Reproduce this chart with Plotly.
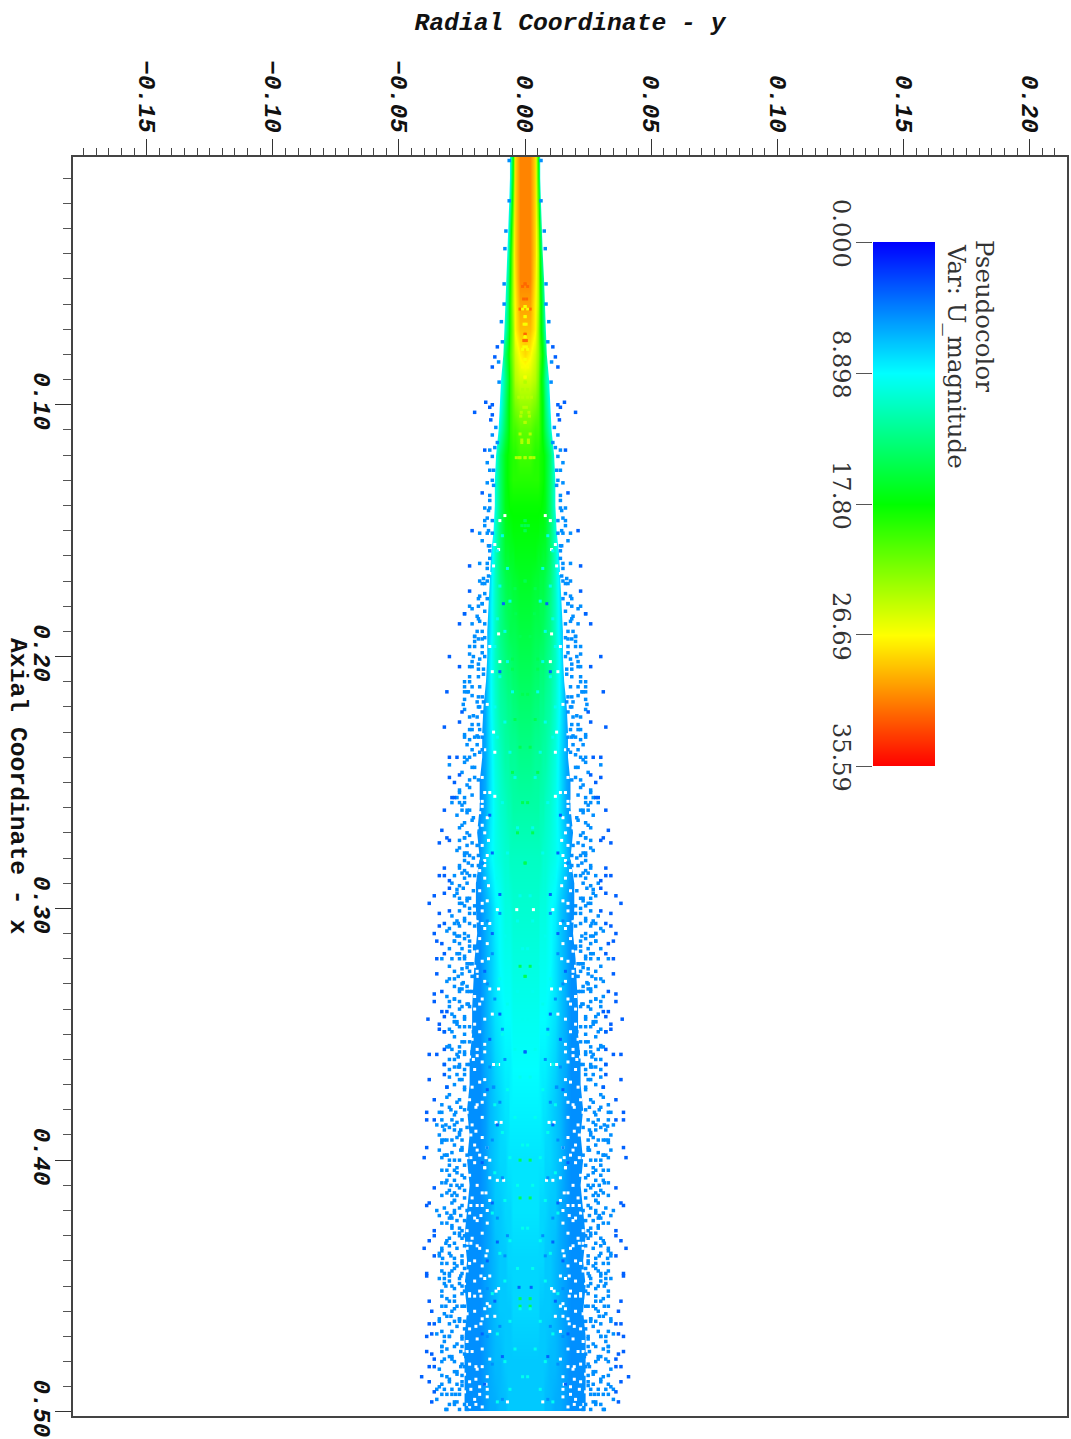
import plotly.graph_objects as go

E = 5
# Speed magnitude, one half of the mirrored jet.
# Radial positions and axial stations are in thousandths.
radial_milli = [0, 2, 4, 5, 6, 7, 8, 10, 12, 14, 16, 18, 20, 22, 24, 26, 28]
axial_milli = [0, 10, 20, 30, 40, 50, 60, 70, 80, 90, 100, 110, 120, 130, 140, 150, 160, 170, 180, 190, 200,
               220, 240, 260, 280, 300, 320, 340, 360, 380, 400, 420, 440, 460, 480, 500]
speed_rows = [
    [31, 31, 28, 18, 9, 6, E, E, E, E, E, E, E, E, E, E, E],
    [31, 31, 28, 19, 10, 6, E, E, E, E, E, E, E, E, E, E, E],
    [31, 31, 28, 21, 12, 7, E, E, E, E, E, E, E, E, E, E, E],
    [31, 31, 28, 23, 15, 9, 6, E, E, E, E, E, E, E, E, E, E],
    [31, 31, 28, 24, 17, 11, 7, E, E, E, E, E, E, E, E, E, E],
    [31, 31, 27.5, 24, 18, 13, 9, 5, E, E, E, E, E, E, E, E, E],
    [30, 30, 27, 24, 19, 14, 10, 5, E, E, E, E, E, E, E, E, E],
    [29, 29, 27, 23, 19, 15, 11, 6, E, E, E, E, E, E, E, E, E],
    [28, 27, 25, 23, 20, 17, 14, 8, E, E, E, E, E, E, E, E, E],
    [25, 25, 24, 22, 19, 16, 13, 8, 5, E, E, E, E, E, E, E, E],
    [23, 23, 22, 21, 19, 17, 14, 9, 6, E, E, E, E, E, E, E, E],
    [21, 21, 20, 20, 19, 17, 15, 11, 7, E, E, E, E, E, E, E, E],
    [20, 20, 19, 19, 18.5, 18, 17, 14, 9, 5, E, E, E, E, E, E, E],
    [19, 19, 19, 19, 18.5, 18, 17, 14, 10, 6, E, E, E, E, E, E, E],
    [18, 18, 18, 18, 18, 17.5, 17, 14, 10, 6, E, E, E, E, E, E, E],
    [17.5, 17.5, 17.5, 17.5, 17, 17, 16.5, 14, 10.5, 6, E, E, E, E, E, E, E],
    [17, 17, 17, 16.5, 16.5, 16, 16, 14, 11, 7, E, E, E, E, E, E, E],
    [16.5, 16.5, 16, 16, 15.5, 15.5, 15, 13.5, 11, 7.5, E, E, E, E, E, E, E],
    [16, 16, 15.5, 15.5, 15, 15, 14.5, 13, 11, 8, E, E, E, E, E, E, E],
    [15.5, 15.5, 15, 15, 15, 14.5, 14, 13, 11, 8, 5.5, E, E, E, E, E, E],
    [15, 15, 14.5, 14.5, 14, 14, 13.5, 12.5, 11, 8.5, 5.5, E, E, E, E, E, E],
    [14, 14, 13.5, 13.5, 13, 13, 12.5, 12, 10.5, 8.5, 6, E, E, E, E, E, E],
    [13, 13, 12.5, 12.5, 12.5, 12, 12, 11, 10, 8, 6, E, E, E, E, E, E],
    [12, 12, 12, 12, 11.5, 11.5, 11, 10.5, 9.5, 8, 6, E, E, E, E, E, E],
    [11, 11, 11, 11, 11, 10.5, 10.5, 10, 9.5, 8.5, 7, 5.5, E, E, E, E, E],
    [10.5, 10.5, 10.5, 10.5, 10, 10, 10, 9, 8.5, 7, 6, E, E, E, E, E, E],
    [10, 10, 10, 10, 9.5, 9.5, 9.5, 9, 8, 7, 6, E, E, E, E, E, E],
    [9.5, 9.5, 9.5, 9.5, 9, 9, 9, 8.5, 8, 7, 6, E, E, E, E, E, E],
    [9, 9, 9, 9, 8.5, 8.5, 8.5, 8, 7.5, 6.5, 6, E, E, E, E, E, E],
    [8.5, 8.5, 8.5, 8.5, 8.5, 8, 8, 7.5, 7, 6.5, 5.5, E, E, E, E, E, E],
    [8, 8, 8, 8, 8, 8, 7.5, 7.5, 7, 6.5, 5.5, E, E, E, E, E, E],
    [8, 8, 8, 8, 7.5, 7.5, 7.5, 7, 7, 6, 5.5, E, E, E, E, E, E],
    [7.5, 7.5, 7.5, 7.5, 7.5, 7.5, 7, 7, 6.5, 6, 5.5, E, E, E, E, E, E],
    [7.5, 7.5, 7.5, 7.5, 7, 7, 7, 7, 6.5, 6, 5.5, E, E, E, E, E, E],
    [7, 7, 7, 7, 7, 7, 7, 6.5, 6.5, 6, 5.5, E, E, E, E, E, E],
    [7, 7, 7, 7, 7, 7, 6.5, 6.5, 6, 6, 5.5, E, E, E, E, E, E],
]

# Half-width of the continuous part of the jet at each axial station (thousandths).
core_axial = list(range(0, 501, 10))
core_halfwidth = [6, 6, 6.3, 6.6, 7, 7.5, 7.8, 8.2, 8.6, 9.5, 10, 10.5, 11.5, 12, 12, 12.5, 13.5, 14, 14.5, 15, 15,
                  15.5, 16.5, 17, 17, 18, 18, 19, 18, 19.5, 19.5, 19, 20, 20.5, 21, 21, 22, 22, 23, 22, 23, 22, 23, 24,
                  23, 24, 23, 24, 24, 24, 24]

# Gaps inside the speckled band: axial, radial distance (thousandths).
gap_axial = [
    388.5, 390, 394, 396, 399, 399, 399, 400, 385, 385, 408, 408, 403, 413, 413, 418, 418, 418, 422, 420, 423, 433, 435,
    433, 435, 438, 446, 447, 452, 451, 454, 454, 454, 458, 462, 462, 459, 466, 465, 476, 476, 482, 482, 487, 489,
    491, 493, 491, 497, 497, 496, 441, 403, 379, 377,
    257.5, 257.5, 257.5, 259.5, 259.5, 281, 283, 280, 254, 255.5, 267, 273, 291, 298, 302, 304, 303, 300.5, 300.5, 306,
    306, 311, 315, 320, 325, 323, 332, 332, 336, 340, 342, 357, 360, 362, 362, 368, 358.5, 350.5,
    157.5, 155.5, 146, 144, 191, 167, 164, 219, 230, 238, 206, 202, 196, 237, 231,
    245, 248, 252, 254, 262, 264, 268, 270, 275, 277, 279, 285, 288, 289, 293, 295, 297, 301, 305, 308, 309, 312, 314,
    317, 318, 321, 324, 327, 329, 331, 335, 338, 341, 344, 346, 349, 352, 354, 356, 359, 361, 364, 366, 369, 371, 374,
    376, 378, 381, 383, 386, 388, 391, 393, 395, 398, 401, 403, 406, 407, 410, 411, 415, 416, 419, 421, 424, 425, 428,
    429, 431, 434, 436, 437, 440, 442, 444, 446, 448, 449, 452, 453, 456, 457, 460, 461, 463, 467, 468, 471, 472, 475,
    477, 479, 481, 483, 485, 486, 488, 490, 492, 494, 495, 498, 498,
]
gap_radial = [
    19.5, 21.5, 20, 19, 23, 21.5, 15.5, 14, 11.5, 9.5, 8.5, 11, 16, 17, 15.5, 21.5, 19, 17, 17.5, 15, 20, 23, 23,
    21.5, 18, 15.5, 17.5, 16, 11.5, 10.5, 17.5, 20, 22, 14, 15, 12, 16, 19.5, 17.5, 23, 21, 19.5, 17, 19.5, 15.5,
    15, 18, 21.5, 19.5, 23, 7, 22, 16, 19.5, 17,
    20, 18.5, 17, 17, 20, 16, 16, 18.5, 14, 12, 17, 14.5, 14.5, 17, 20, 20, 21, 11, 3.3, 14,
    17, 21, 22.5, 14.5, 19, 20, 14, 10.5, 17, 20, 13, 16, 20.5, 12.5, 10.5, 16, 19, 22,
    10.5, 12, 10, 8, 10.5, 14, 12.5, 15, 12.5, 12, 13, 10, 14, 16, 17,
    19, 17, 20, 16, 18, 15, 19, 16, 17, 20, 15, 18, 16, 20, 18, 21, 15, 17, 19, 16, 21, 18, 15,
    19, 22, 17, 21, 19, 16, 22, 20, 18, 22, 16, 20, 18, 21, 16, 19, 22, 17, 20, 23, 18, 21, 16,
    22, 19, 23, 17, 21, 23, 17, 24, 15, 18, 20, 24, 22, 14, 19, 24, 21, 14, 24, 22, 19, 15, 23,
    17, 21, 19, 15, 24, 20, 17, 23, 14, 20, 24, 18, 22, 24, 15, 20, 23, 17, 22, 14, 19, 23, 17,
    24, 14, 22, 19, 24, 15, 22, 18, 24, 15, 20, 22, 17,
]

# Droplets inside the core whose speed differs from their surroundings.
hot_axial = [52, 53, 58, 62, 62, 72, 74.5]
hot_radial = [0, 1, 0.6, 1, 2, 0, 0.5]
warm_axial = [61, 62, 65, 68, 73, 77, 78, 82, 85, 89]
warm_radial = [0, 1, 0, 0.4, 0, 0.5, 1, 0, 1, 0]
lime_axial = [91, 94, 97, 97, 101, 103, 104.5, 107, 111.6, 114, 115, 121, 121, 121, 121]
lime_radial = [0, 1, 1, 2.5, 0.5, 1.5, 1.7, 0, 2, 1.3, 1.3, 2, 0, 2.4, 3.5]
green_axial = [146, 148, 150, 148, 173, 183, 201, 170, 192, 205, 215, 225, 236, 246, 258, 270, 282, 323, 327, 400,
               455, 458, 415]
green_radial = [0, 0, 0, 1.3, 4, 3.7, 5, 0, 2, 5, 1, 4, 2, 5, 1, 3, 0, 2, 0, 2, 2, 2, 2]
cyan_axial = [152, 158, 165, 172, 178, 185, 190, 196, 202, 208, 214, 220, 226, 232, 238,
              248, 258, 268, 278, 288, 295, 305, 311, 316, 322, 328, 333, 338, 344, 350, 356, 362, 367, 372, 378, 383,
              389, 394, 399, 405, 410, 416, 421, 427, 432, 437, 443, 448, 453, 459, 464, 469, 475, 480, 486, 491, 496]
cyan_radial = [9, 11, 7, 10, 6, 11, 8, 12, 7, 10, 5, 12, 8, 11, 6,
               4, 9, 3, 7, 11, 2, 3, 8, 1, 6, 10, 3, 7, 1, 9, 4, 11, 2, 7, 12, 4,
               9, 1, 6, 12, 3, 8, 13, 1, 6, 10, 3, 8, 13, 2, 6, 11, 4, 8, 1, 6, 11]
blue_axial = [302, 318, 336, 348, 363, 377, 392, 407, 423, 438, 451, 466, 481, 495, 305, 330, 360, 395, 430, 470]
blue_radial = [10, 13, 12, 9, 14, 10, 13, 9, 11, 8, 15, 10, 13, 9, 15, 15, 8, 15, 7, 15]
dark_axial = [294.5, 342, 357, 206, 179, 432.5, 469, 450.5, 310, 325, 352, 372, 386, 401, 417, 440, 456, 478, 489, 263,
              278]
dark_radial = [10, 10, 0, 10, 8.6, 11, 17, 2.4, 13, 16, 14, 15, 11, 17, 13, 15, 12, 9, 16, 14, 13]

# Individual droplets on the jet edge: axial, radial distance (thousandths).
near_axial = [
    3, 19, 31, 38, 52, 60, 67, 75, 83, 91, 109,
    112, 118, 123, 126, 131, 136, 138, 141, 141, 145, 148, 150, 151, 154, 156, 158, 163, 163, 165, 168, 170, 171, 170,
    176, 177, 179, 177, 180, 181, 180, 183, 184, 186, 187, 190, 190, 192, 194, 193, 196, 196, 196, 199, 201, 200, 202,
    204, 203, 205, 208, 208, 207, 210, 212, 212, 212, 214, 214, 217, 216, 218, 221, 220, 224, 224, 222, 227, 227, 229,
    231, 233, 232, 235, 235, 232, 237, 240, 238,
    243, 244, 249, 254, 252, 256, 258, 258, 258, 261, 263, 266, 264, 272, 271, 276, 275, 275, 278, 281, 279, 279, 282,
    283, 285, 283, 287, 290, 287, 291, 295, 296, 296, 298, 299, 302, 304, 304, 305, 307, 306, 307, 308, 310, 310, 313,
    314, 313, 316, 317, 316, 320, 320, 319, 323, 324, 322, 325, 328, 329, 330, 327, 333, 336, 333, 337, 337, 333, 339,
    339, 343, 345, 343, 349, 349, 347, 347, 355, 356, 355, 353, 358, 357, 362, 360, 363, 362, 364, 366, 366, 371, 368,
    368,
    375, 381, 379, 384, 384, 390, 388, 387, 385, 392, 392, 389, 387, 396, 398, 399, 397, 395, 402, 400, 398, 404, 403,
    406, 409, 408, 406, 412, 410, 414, 416, 418, 419, 420, 422, 421, 420, 420, 425, 424, 423, 427, 427, 431, 431, 435,
    435, 439, 438, 437, 441, 442, 441, 445, 444, 445, 444, 448, 449, 448, 447, 455, 454, 453, 452, 458, 458, 460, 463,
    462, 466, 464, 463, 470, 474, 469, 474, 478, 478, 474, 487, 485, 482, 480, 493, 491, 489, 497, 496, 494, 493, 499,
    499, 499, 499,
    380, 381, 379, 377, 381, 386, 386, 388, 386.5, 392, 391, 392, 392, 396, 398, 404, 400, 409, 410, 410, 413, 414, 412,
    414, 423, 422, 422, 429, 430, 430, 433, 434, 433, 438, 438, 441, 439, 443, 446, 446, 447, 450, 450, 450, 456, 458,
    458, 462, 464, 464, 464, 468, 470, 470, 470, 474, 476, 476, 478, 480, 482, 479, 484, 485.5, 485.5, 488, 489, 489.5,
    491, 493, 493, 491, 496, 497, 497,
    244, 242, 248, 249, 253, 256, 261, 261, 265, 267, 272, 274, 273, 278, 280, 282, 283, 286, 287, 290, 292, 293, 292.5,
    298, 300, 299, 302, 306, 306, 311, 311, 310, 316, 315, 313, 320, 322, 320, 323.5, 327, 327, 329.5, 331, 333, 332,
    338, 337, 339, 345, 347, 349, 345, 353, 357, 354.5, 359, 362, 363, 366, 363, 371, 371,
    115, 117, 120.5, 126, 130, 132, 142, 146, 146, 151, 151, 156, 161, 171, 169, 175, 179, 182, 185, 187, 193, 192.5, 192,
    198.5, 200, 205, 204, 210, 215.5, 216, 214, 218, 219, 220, 223.5, 229, 229, 232, 232, 231.5, 237, 239, 240,
    241, 246, 251, 255, 259, 262, 268, 270, 277, 279, 284, 286, 288, 294, 296, 297, 301, 303, 305, 309, 311, 312, 315,
    318, 318, 322, 325, 326, 328, 331, 332, 335, 336, 338, 340, 342, 344, 346, 348, 350, 351, 353, 355, 357, 358, 360,
    362, 364, 367, 368, 370, 372, 374, 376, 378, 380, 382, 384, 386, 388, 390, 393, 394, 396, 398, 400, 402, 404, 405,
    407, 408, 411, 413, 415, 416, 417, 419, 421, 424, 425, 426, 428, 429, 432, 434, 436, 437, 440, 441, 443, 445, 447,
    449, 451, 452, 454, 456, 458, 459, 461, 463, 465, 467, 468, 471, 472, 473, 475, 477, 479, 481, 483, 484, 486, 488,
    490, 491, 493, 495, 497, 498,
]
near_radial = [
    6.3, 6.3, 7.6, 8, 8.3, 8.3, 9.4, 9, 10.5, 10.3, 11.6,
    13, 14, 15, 14, 15, 14, 14, 16, 14, 15, 16, 14.5, 18, 17, 14.5, 14, 18, 15, 15, 14.5, 18, 17, 15,
    18, 18.5, 17, 15, 22, 21, 18.5, 24, 19, 18, 16, 19, 17, 20, 20, 17, 22, 20, 17, 22, 18, 16, 21,
    22, 18.5, 18.5, 22, 18.5, 16.5, 22, 24, 21, 18, 24, 23, 24, 18.5, 16.5, 24, 18.5, 22, 19, 17, 21, 18.5, 22,
    24, 22, 20, 23, 19, 17, 21, 22, 18,
    30, 21, 22, 26, 22, 24, 26, 24, 29, 22, 27, 24, 20.5, 24, 22, 26, 23, 19, 24, 24, 22, 18.5, 17,
    26, 24, 21, 28, 23, 20, 26, 28, 23, 26, 26, 20, 20, 24, 18.5, 27, 26, 22, 20, 30, 28, 24, 28,
    26, 22, 30, 22, 20, 29, 33, 24, 30, 25, 22, 22, 30, 31, 25, 21, 26, 28, 23, 30, 26, 21, 25,
    22, 28, 28, 24, 32, 29, 26, 22, 31, 29, 26, 22, 27, 24, 32, 28, 26, 22, 30, 27, 24, 31, 26,
    20,
    31, 33, 30, 33, 29, 34, 32, 30, 27, 32, 29, 26, 23, 34, 32, 33, 29, 25, 30, 26, 23, 31, 27,
    30, 33, 28, 25, 30, 25, 29, 28, 25, 32, 28, 34, 31, 23, 35, 31, 27, 30, 26, 29, 25, 30,
    27, 33, 28, 25, 34, 31, 27, 33, 32, 29, 25, 33, 30, 26, 23, 34, 31, 28, 25, 33, 27, 33, 29,
    26, 31, 27, 24, 34, 30, 25, 35, 33, 29, 23.5, 33, 30, 27, 24, 33, 29, 26, 33, 30, 27, 23, 33,
    31, 26, 23,
    31.4, 29.4, 27.5, 25.5, 27, 34, 31.4, 28, 25.5, 32.7, 31, 27, 25, 33, 25.5, 31, 28, 30, 31.4, 27, 29.4, 28, 27,
    24, 33, 29, 25.5, 29.4, 28, 26, 24, 28, 30, 31.4, 34, 29.4, 25, 32.7, 28, 25.5, 30, 32, 29, 25, 31.4, 28,
    25, 31.4, 29.4, 26, 34, 28, 33, 30, 25, 32, 28, 25.5, 33, 30, 28, 25.5, 32, 28, 25, 33, 30, 27,
    25, 35, 31, 27.5, 32, 28, 24,
    22, 20, 24, 20, 18.5, 26, 27, 23, 25, 21, 25, 24, 21, 26, 23, 20.5, 22.5, 18.5, 25, 22, 29, 24.5, 20.5,
    27, 25, 22, 24, 22, 26.5, 28, 26, 22.5, 28, 25, 20, 28, 24, 21, 26, 23, 26.5, 20, 24.5, 28, 22,
    26, 22.5, 20, 30, 27, 24, 20.5, 28, 25, 21, 30, 26.5, 23, 28, 20.5, 26.5, 24,
    12.5, 11, 12, 13, 12.5, 13, 12.5, 14.5, 16, 13, 15, 13, 14, 14, 16, 16.5, 16, 17, 16, 18.5, 21, 18.5, 16,
    20, 17, 20.5, 16.5, 21, 24, 21, 17, 22.5, 19, 24.5, 18, 20.5, 18, 21, 24, 18.5, 19, 17, 20,
    24, 23, 25, 23, 21, 25, 23, 26, 23, 27, 24, 26, 23, 24, 27, 22, 23, 26, 29, 24, 31, 27, 24,
    22, 27, 26, 23, 28, 25, 28, 23, 25, 31, 28, 23, 26, 29, 24, 27, 30, 24, 28, 24, 30, 26, 24,
    30, 26, 24, 30, 25, 28, 24, 30, 26, 33, 24, 28, 25, 35, 28, 26, 33, 28, 25, 31, 28, 24, 33,
    27, 24, 31, 26, 31, 24, 28, 29, 26, 28, 24, 33, 29, 25, 26, 31, 24, 33, 30, 25, 28, 24, 30,
    26, 32, 28, 24, 33, 30, 24, 28, 32, 26, 30, 24, 29, 25, 32, 27, 31, 24, 29, 25, 34, 27, 31,
    25, 34, 29, 26, 35, 28,
]
far_axial = [
    77, 81, 85, 99, 101, 103, 100, 104, 106, 118, 135, 150, 164, 174, 183, 187, 200, 204, 214, 222, 226, 228, 240, 240,
    247, 248, 250, 256, 256, 261, 269, 272, 273, 274, 284, 287, 287, 289, 292, 294, 295, 298, 301, 302, 306, 307, 310,
    313, 314, 318, 320, 326, 334, 333, 337, 341, 341, 344, 343, 346, 348, 349, 356, 358, 358, 362, 366, 368, 371,
    376, 381, 384, 384, 395, 399, 411, 418, 417, 428, 430, 432, 435, 438, 445, 446, 456, 460, 465, 465, 470, 469, 476,
    477, 479, 482, 482, 486, 488, 492, 496,
]
far_radial = [
    11, 12, 13, 15.6, 14, 20, 13, 13, 13.6, 16, 17, 21, 22, 22, 24, 26, 30, 26, 31, 25, 26, 32, 30, 27,
    26, 30, 28, 28, 29, 32, 33, 31, 30, 34, 32, 32, 34, 30, 30, 32, 36, 38, 30, 34, 32, 34, 36,
    35, 33, 32, 35, 35, 36, 33, 36, 33, 31, 38.5, 32, 34, 34, 32, 32, 38, 35, 32, 32, 38, 31,
    36, 39, 39, 36, 39, 40, 36, 39, 38, 36, 36, 38, 40, 36, 39, 39, 38, 37, 38, 36, 39, 37, 39,
    37, 36, 38, 36, 41, 38, 36, 37,
]

near_speed = 5
far_speed = 3.4

legend_levels = [0.0, 8.898, 17.80, 26.69, 35.59]
legend_labels = ["0.000", "8.898", "17.80", "26.69", "35.59"]

jet_scale = [[0, "#0000ff"], [0.25, "#00ffff"], [0.5, "#00ff00"], [0.75, "#ffff00"], [1, "#ff0000"]]
x_range = [-0.1792, 0.2148]
y_range = [0.5016, 0.0016]
data_end = 0.4996

radial_full = [-r / 1000 for r in reversed(radial_milli[1:])] + [r / 1000 for r in radial_milli]
axial_full = [a / 1000 for a in axial_milli]
speed_full = [list(reversed(row[1:])) + row for row in speed_rows]

fig = go.Figure()
fig.add_trace(go.Heatmap(x=radial_full, y=axial_full, z=speed_full, zmin=0, zmax=35.59, zsmooth="best",
                         colorscale=jet_scale, showscale=False))


def droplets(axial, radial, speed=None, color=None, size=3.5):
    n = min(len(axial), len(radial))
    xs = [r / 1000 for r in radial[:n]] + [-r / 1000 for r in radial[:n]]
    ys = [a / 1000 for a in axial[:n]] * 2
    marker = dict(symbol="square", size=size, line_width=0)
    if color:
        marker["color"] = color
    else:
        marker.update(color=[speed] * len(xs), cmin=0, cmax=35.59, colorscale=jet_scale)
    fig.add_trace(go.Scatter(x=xs, y=ys, mode="markers", showlegend=False, marker=marker, hoverinfo="skip"))


droplets(gap_axial, gap_radial, color="white", size=3)
droplets(hot_axial, hot_radial, speed=32, size=3)
droplets(warm_axial, warm_radial, speed=26.5, size=3)
droplets(lime_axial, lime_radial, speed=24, size=3)
droplets(green_axial, green_radial, speed=15, size=3)
droplets(cyan_axial, cyan_radial, speed=9.5, size=3)
droplets(blue_axial, blue_radial, speed=5, size=3)
droplets(dark_axial, dark_radial, speed=3.5, size=3)

# White outside the continuous core, so that its edge follows core_halfwidth.
for side, limit in ((1, x_range[1]), (-1, x_range[0])):
    xs = [side * r / 1000 for r in core_halfwidth] + [side * core_halfwidth[-1] / 1000, limit + side * 0.01,
                                                      limit + side * 0.01, side * core_halfwidth[0] / 1000]
    ys = [a / 1000 for a in core_axial] + [0.51, 0.51, -0.01, -0.01]
    fig.add_trace(go.Scatter(x=xs, y=ys, mode="lines", fill="toself", fillcolor="white", line_width=0,
                             showlegend=False, hoverinfo="skip"))
fig.add_trace(go.Scatter(x=[x_range[0], x_range[1], x_range[1], x_range[0], x_range[0]],
                         y=[data_end, data_end, 0.51, 0.51, data_end], mode="lines", fill="toself",
                         fillcolor="white", line_width=0, showlegend=False, hoverinfo="skip"))

droplets(near_axial, near_radial, speed=near_speed)
droplets(far_axial, far_radial, speed=far_speed)

fig.add_trace(go.Heatmap(x=[0, 1], y=legend_levels, z=[[v, v] for v in legend_levels], zmin=0, zmax=35.59,
                         zsmooth="best", colorscale=jet_scale, showscale=False, xaxis="x2", yaxis="y2"))

W, H = 1071, 1439
mono = "Liberation Mono"
serif = "DejaVu Serif"
ink = "#111111"
fig.update_layout(
    width=W, height=H, margin=dict(l=0, r=0, t=0, b=0), plot_bgcolor="white", paper_bgcolor="white",
    showlegend=False,
    xaxis=dict(domain=[73 / W, 1067 / W], range=x_range, side="top", anchor="y",
               tick0=0, dtick=0.05, tickformat=".2f", tickangle=90, ticks="outside", ticklen=16, tickwidth=1,
               tickcolor="#333", showgrid=False, zeroline=False, showline=True, linecolor="#444", linewidth=2,
               mirror=True, automargin=False, ticklabelstandoff=-2,
               tickfont=dict(family=mono, size=24, color=ink, weight="bold", style="italic"),
               minor=dict(dtick=0.005, tick0=0, ticks="outside", ticklen=7, tickwidth=1, tickcolor="#444"),
               title=dict(text="<b><i>Radial Coordinate - y</i></b>", standoff=23,
                          font=dict(family=mono, size=24.7, color=ink))),
    yaxis=dict(domain=[1 - 1416 / H, 1 - 157 / H], range=y_range, anchor="x",
               tick0=0, dtick=0.1, tickformat=".2f", tickangle=90, ticks="outside", ticklen=16, tickwidth=1,
               tickcolor="#333", showgrid=False, zeroline=False, showline=True, linecolor="#444", linewidth=2,
               mirror=True, automargin=False, ticklabelstandoff=-8,
               tickfont=dict(family=mono, size=24, color=ink, weight="bold", style="italic"),
               minor=dict(dtick=0.01, tick0=0, ticks="outside", ticklen=8, tickwidth=1, tickcolor="#555")),
    xaxis2=dict(domain=[873 / W, 935 / W], range=[0, 1], anchor="y2", visible=False),
    yaxis2=dict(domain=[1 - 766 / H, 1 - 242 / H], range=[35.59, 0], anchor="x2", side="left",
                tickvals=legend_levels, ticktext=legend_labels, tickangle=90, ticks="outside", ticklen=16,
                tickwidth=1, tickcolor="#555", showgrid=False, zeroline=False, showline=False, automargin=False,
                ticklabelshift=5, ticklabelstandoff=-6, tickfont=dict(family=serif, size=24, color="#333")),
    annotations=[
        dict(text="<b>Axial Coordinate - x</b>", xref="paper", yref="paper", x=18 / W, y=1 - 786 / H,
             xanchor="center", yanchor="middle", textangle=90, showarrow=False,
             font=dict(family=mono, size=24.7, color=ink)),
        dict(text="Pseudocolor", xref="paper", yref="paper", x=985 / W, y=1 - 316 / H, xanchor="center",
             yanchor="middle", textangle=90, showarrow=False, font=dict(family=serif, size=24.5, color="#333")),
        dict(text="Var: U_magnitude", xref="paper", yref="paper", x=957 / W, y=1 - 356 / H, xanchor="center",
             yanchor="middle", textangle=90, showarrow=False, font=dict(family=serif, size=24.5, color="#333")),
    ],
)

fig.write_html("out.html", config={"displayModeBar": False},
               post_script="document.body.style.margin='0';document.body.style.overflow='hidden';")
